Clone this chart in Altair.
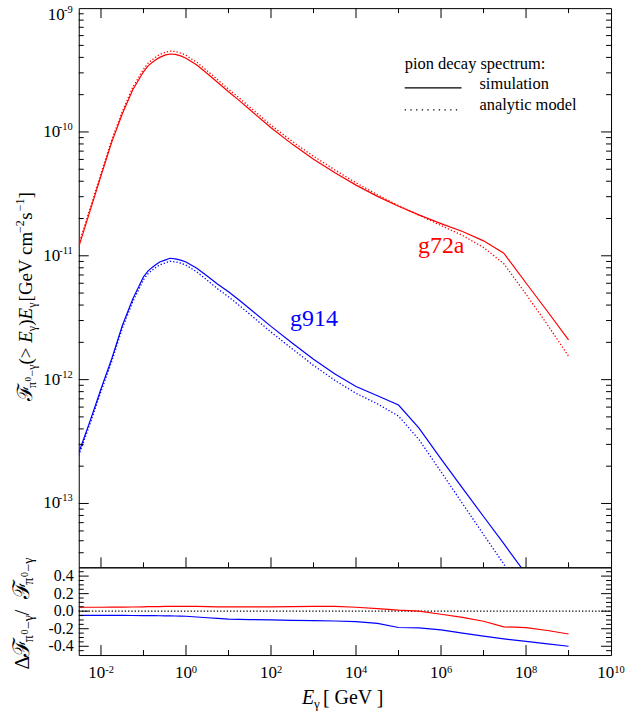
import altair as alt
import pandas as pd

# photon energy grid [GeV]
energy = [3.0e-3, 5.6e-3, 1.0e-2, 1.8e-2, 3.2e-2, 5.6e-2, 0.1, 0.13, 0.18, 0.24, 0.32, 0.42,
          0.56, 0.75, 1.0, 1.8, 3.2, 5.6, 10.0, 18.0, 32.0, 100.0, 320.0, 1e3, 3.2e3, 1e4,
          3.2e4, 1e5, 3e5, 1e6, 3.2e6, 1e7, 3e7, 1e8, 3.2e8, 1e9]

# simulated integral pion-decay flux F(>E) * E  [GeV cm^-2 s^-1]
sim_g72a = [1.18e-11, 2.34e-11, 4.42e-11, 8.32e-11, 1.41e-10, 2.19e-10, 3.06e-10, 3.43e-10,
            3.76e-10, 4.00e-10, 4.17e-10, 4.26e-10, 4.23e-10, 4.11e-10, 3.94e-10, 3.47e-10,
            2.95e-10, 2.51e-10, 2.11e-10, 1.79e-10, 1.51e-10, 1.08e-10, 7.94e-11, 6.03e-11,
            4.68e-11, 3.72e-11, 3.02e-11, 2.51e-11, 2.14e-11, 1.82e-11, 1.57e-11, 1.32e-11,
            1.05e-11, 6.03e-12, 3.55e-12, 2.09e-12]
sim_g914 = [2.57e-13, 4.68e-13, 8.41e-13, 1.48e-12, 2.75e-12, 4.47e-12, 6.76e-12, 7.59e-12,
            8.32e-12, 8.91e-12, 9.23e-12, 9.55e-12, 9.44e-12, 9.23e-12, 8.91e-12, 7.94e-12,
            6.84e-12, 5.89e-12, 5.13e-12, 4.37e-12, 3.72e-12, 2.69e-12, 1.97e-12, 1.46e-12,
            1.11e-12, 8.81e-13, 7.41e-13, 6.24e-13, 4.07e-13, 2.29e-13, 1.33e-13, 7.85e-14,
            4.73e-14, 2.69e-14, 1.59e-14, 9.33e-15]

# relative difference (model - simulation) / simulation
delta_g72a = [0.045, 0.045, 0.045, 0.046, 0.047, 0.048, 0.050, 0.051, 0.052, 0.053, 0.054,
              0.055, 0.055, 0.055, 0.055, 0.054, 0.052, 0.050, 0.050, 0.050, 0.050, 0.050,
              0.052, 0.055, 0.054, 0.045, 0.030, 0.012, 0.000, -0.035, -0.070, -0.115,
              -0.178, -0.188, -0.220, -0.260]
delta_g914 = [-0.048, -0.048, -0.048, -0.048, -0.048, -0.049, -0.050, -0.050, -0.051, -0.052,
              -0.053, -0.054, -0.055, -0.056, -0.058, -0.066, -0.075, -0.083, -0.090, -0.093,
              -0.096, -0.100, -0.104, -0.108, -0.112, -0.120, -0.140, -0.186, -0.190, -0.213,
              -0.250, -0.285, -0.315, -0.345, -0.372, -0.400]

runs = ["g72a", "g914"]
run_colors = ["#ff0000", "#0000ff"]
# anchor points of the run names
name_E = [2.87e5, 2.81e2]
name_F = [1.06e-11, 2.72e-12]

# tick positions and their labels
x_major = [1e-2, 1.0, 1e2, 1e4, 1e6, 1e8]
x_minor = [1e-1, 1e1, 1e3, 1e5, 1e7, 1e9]
y_major = [1e-13, 1e-12, 1e-11, 1e-10]
y_major_exp = ["-13", "-12", "-11", "-10"]
r_major = [-0.4, -0.2, 0.0, 0.2, 0.4]
r_major_text = ["-0.4", "-0.2", "0.0", "0.2", "0.4"]
r_minor = [-0.45, -0.35, -0.3, -0.25, -0.15, -0.1, -0.05, 0.05, 0.1, 0.15, 0.25, 0.3, 0.35, 0.45]
y_minor = [k * 10.0 ** d for d in range(-14, -9) for k in range(2, 10) if k * 10.0 ** d >= 3.05e-14]

rows = []
for run, sim, dlt in (("g72a", sim_g72a, delta_g72a), ("g914", sim_g914, delta_g914)):
    for e, s, d in zip(energy, sim, dlt):
        # analytic model follows from the simulation and the relative difference
        rows.append({"E": e, "sim": s, "model": s * (1.0 + d), "delta": d, "run": run})
df = pd.DataFrame(rows)
names = pd.DataFrame({"run": runs, "E": name_E, "F": name_F})

W, H1, H2 = 534, 561, 88
FONT = "Liberation Serif"
ONE = pd.DataFrame({"k": [0]})

x_scale = alt.Scale(type="log", domain=[3.0e-3, 1e10])
y_scale = alt.Scale(type="log", domain=[3.05e-14, 1e-9])
r_scale = alt.Scale(domain=[-0.5, 0.5])
c_scale = alt.Scale(domain=runs, range=run_colors)


def label(text, x, y, size, color="black", style="normal", angle=0, align="left"):
    return alt.Chart(ONE).mark_text(
        text=text, font=FONT, fontSize=size, fontStyle=style, color=color,
        angle=angle, align=align, baseline="alphabetic"
    ).encode(x=alt.value(x), y=alt.value(y))


def rotated(pieces, x_base, y_start):
    out, y = [], y_start
    for text, size, style, shift, adv in pieces:
        out.append(label(text, x_base + shift, y, size, style=style, angle=270))
        y -= adv
    return out


def vticks(values, scale, length, side):
    d = pd.DataFrame({"v": values})
    x0 = 0 if side == "left" else W
    x1 = length if side == "left" else W - length
    return alt.Chart(d).mark_rule(color="black", strokeWidth=1).encode(
        y=alt.Y("v:Q", scale=scale, axis=None), x=alt.value(x0), x2=alt.value(x1))


def hticks(values, length, y0, direction):
    d = pd.DataFrame({"v": values})
    return alt.Chart(d).mark_rule(color="black", strokeWidth=1).encode(
        x=alt.X("v:Q", scale=x_scale, axis=None), y=alt.value(y0),
        y2=alt.value(y0 + direction * length))


def y_pow_labels(values, exps, exp_width, dy=0.0):
    d = pd.DataFrame({"v": values, "exp": exps})
    base = alt.Chart(d)
    ten = base.mark_text(text="10", font=FONT, fontSize=17, align="right", baseline="middle",
                         dy=dy, color="black").encode(
        y=alt.Y("v:Q", scale=y_scale, axis=None), x=alt.value(-6 - exp_width))
    sup = base.mark_text(font=FONT, fontSize=10.5, align="right", baseline="middle",
                         dy=dy - 5, color="black").encode(
        y=alt.Y("v:Q", scale=y_scale, axis=None), x=alt.value(-6), text="exp:N")
    return [ten, sup]


def x_pow_labels(values, exps, shift):
    d = pd.DataFrame({"v": values, "exp": exps})
    base = alt.Chart(d)
    ten = base.mark_text(text="10", font=FONT, fontSize=17, align="right", baseline="alphabetic",
                         dx=shift, color="black").encode(
        x=alt.X("v:Q", scale=x_scale, axis=None), y=alt.value(111))
    sup = base.mark_text(font=FONT, fontSize=10.5, align="left", baseline="alphabetic",
                         dx=shift, color="black").encode(
        x=alt.X("v:Q", scale=x_scale, axis=None), y=alt.value(106.5), text="exp:N")
    return [ten, sup]


# ---------------- upper panel: spectra ----------------
sim_line = alt.Chart(df).mark_line(clip=True, strokeWidth=1.2).encode(
    x=alt.X("E:Q", scale=x_scale, axis=None),
    y=alt.Y("sim:Q", scale=y_scale, axis=None),
    color=alt.Color("run:N", scale=c_scale, legend=None),
    detail="run:N")
model_line = alt.Chart(df).mark_line(clip=True, strokeWidth=1.3, strokeDash=[1.3, 2.0]).encode(
    x=alt.X("E:Q", scale=x_scale, axis=None),
    y=alt.Y("model:Q", scale=y_scale, axis=None),
    color=alt.Color("run:N", scale=c_scale, legend=None),
    detail="run:N")
run_names = alt.Chart(names).mark_text(font=FONT, fontSize=24, align="left", baseline="alphabetic").encode(
    x=alt.X("E:Q", scale=x_scale, axis=None),
    y=alt.Y("F:Q", scale=y_scale, axis=None),
    text="run:N",
    color=alt.Color("run:N", scale=c_scale, legend=None))

legend = [
    label("pion decay spectrum:", 327, 61, 16.5),
    alt.Chart(ONE).mark_rule(color="black", strokeWidth=1.3).encode(
        x=alt.value(327), x2=alt.value(384), y=alt.value(80)),
    label("simulation", 402, 81, 16.5),
    alt.Chart(ONE).mark_rule(color="black", strokeWidth=1.3, strokeDash=[1.3, 4.4]).encode(
        x=alt.value(327), x2=alt.value(384), y=alt.value(102)),
    label("analytic model", 402, 102, 16.5),
]

top_title = rotated([
    ("ℱ", 21, "normal", 0, 13), ("π", 12, "normal", 4, 6.5), ("0", 9, "normal", -1, 5),
    ("−γ", 12, "normal", 4, 12), ("(> ", 19, "normal", 0, 21.8), ("E", 19, "italic", 0, 11.6),
    ("γ", 12, "normal", 4, 5.5), (")", 19, "normal", 0, 6.3), ("E", 19, "italic", 0, 11.6),
    ("γ", 12, "normal", 4, 6.5), ("[GeV cm", 19, "normal", 0, 68.5), ("−2", 12, "normal", -8, 13.5),
    ("s", 19, "normal", 0, 8.5), ("−1", 12, "normal", -8, 12.8), ("]", 19, "normal", 0, 6.3),
], -47, 394)

anchor_top = alt.Chart(ONE).mark_rule(opacity=0, strokeWidth=0).encode(
    x=alt.value(-78), x2=alt.value(W + 14), y=alt.value(-6))

top = alt.layer(
    anchor_top, sim_line, model_line, run_names,
    vticks(y_major, y_scale, 10, "left"), vticks(y_minor, y_scale, 5, "left"),
    vticks(y_major, y_scale, 10, "right"), vticks(y_minor, y_scale, 5, "right"),
    hticks(x_major, 10, 0, 1), hticks(x_minor, 5, 0, 1),
    hticks(x_major, 10, H1, -1), hticks(x_minor, 5, H1, -1),
    *y_pow_labels(y_major, y_major_exp, 12.5),
    *y_pow_labels([1e-9], ["-9"], 8.0, dy=7),
    *legend, *top_title,
).properties(width=W, height=H1)

# ---------------- lower panel: relative difference ----------------
delta_line = alt.Chart(df).mark_line(clip=True, strokeWidth=1.2).encode(
    x=alt.X("E:Q", scale=x_scale, axis=None),
    y=alt.Y("delta:Q", scale=r_scale, axis=None),
    color=alt.Color("run:N", scale=c_scale, legend=None),
    detail="run:N")
zero_line = alt.Chart(pd.DataFrame({"v": [0.0]})).mark_rule(
    color="black", strokeWidth=1.2, strokeDash=[1.3, 2.0]).encode(
    y=alt.Y("v:Q", scale=r_scale, axis=None), x=alt.value(0), x2=alt.value(W))
r_labels = alt.Chart(pd.DataFrame({"v": r_major, "t": r_major_text})).mark_text(
    font=FONT, fontSize=16, align="right", baseline="middle", color="black").encode(
    y=alt.Y("v:Q", scale=r_scale, axis=None), x=alt.value(-5), text="t:N")

bottom_title = rotated([
    ("Δ", 21, "normal", 0, 12.9), ("ℱ", 23, "normal", 0, 14.5), ("π", 14, "normal", 4, 7.7),
    ("0", 10, "normal", -1, 5.5), ("−γ", 14, "normal", 4, 13.6), (" / ", 21, "normal", 0, 16.3),
    ("ℱ", 23, "normal", 0, 14.5), ("π", 14, "normal", 4, 7.7), ("0", 10, "normal", -1, 5.5),
    ("−γ", 14, "normal", 4, 13.6),
], -50, 102.5)

x_title = [
    label("E", 224, 137, 20, style="italic"),
    label("γ", 236, 141, 13),
    label("[ GeV ]", 245, 137, 20),
]

anchor_bottom = alt.Chart(ONE).mark_rule(opacity=0, strokeWidth=0).encode(
    x=alt.value(-78), x2=alt.value(W + 14), y=alt.value(H2 + 56))

bottom = alt.layer(
    anchor_bottom, zero_line, delta_line, r_labels,
    vticks(r_major, r_scale, 10, "left"), vticks(r_minor, r_scale, 5, "left"),
    vticks(r_major, r_scale, 10, "right"), vticks(r_minor, r_scale, 5, "right"),
    hticks(x_major, 10, H2, -1), hticks(x_minor, 5, H2, -1),
    *x_pow_labels([1.0, 1e2, 1e4, 1e6, 1e8], ["0", "2", "4", "6", "8"], 5.9),
    *x_pow_labels([1e-2], ["-2"], 4.3),
    *x_pow_labels([1e10], ["10"], 3.2),
    *bottom_title, *x_title,
).properties(width=W, height=H2)

chart = alt.vconcat(top, bottom, spacing=0, bounds="flush").properties(
    padding=0
).configure_view(stroke="black", strokeWidth=1)

chart.save("out.html", embed_options={"renderer": "svg", "actions": False})
